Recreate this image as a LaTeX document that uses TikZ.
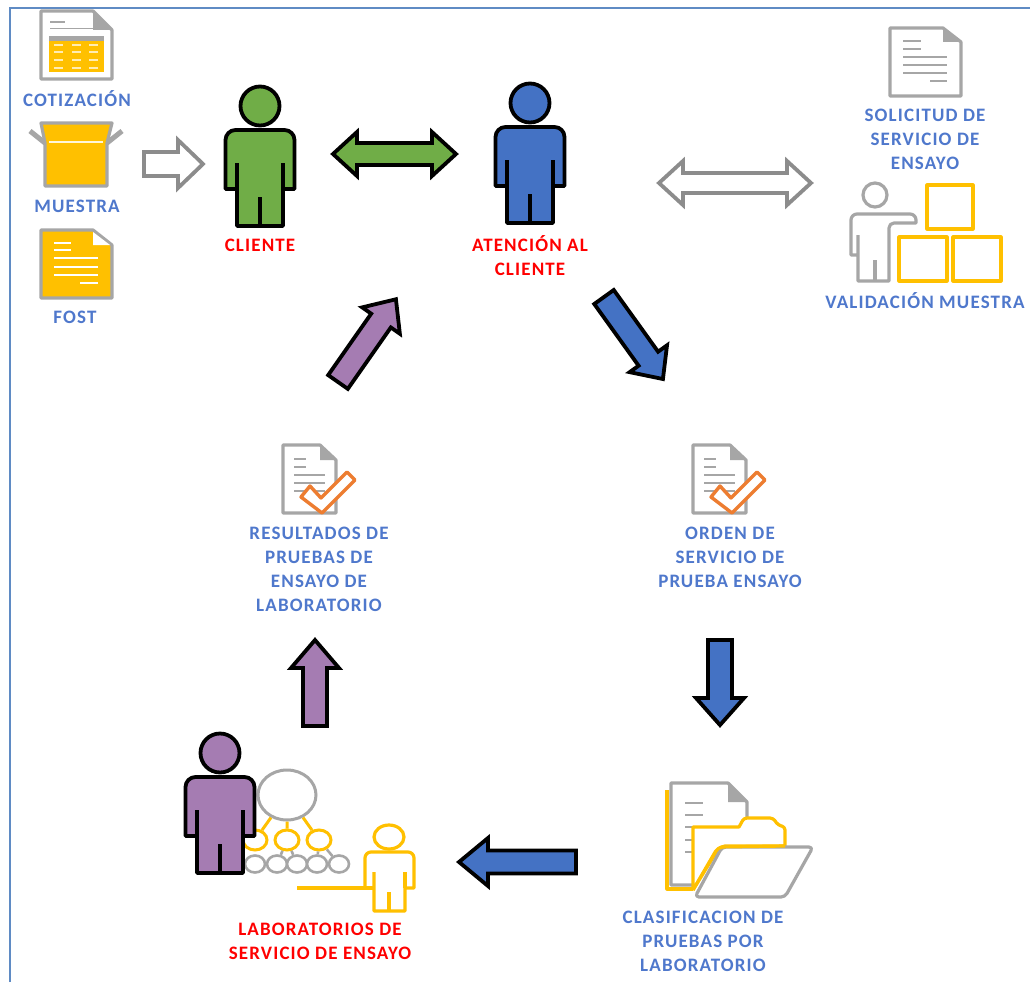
\documentclass[tikz,border=0pt]{standalone}
\usepackage{fontspec}
\setmainfont{Carlito}[LetterSpace=6]
\usetikzlibrary{shapes.geometric}
\definecolor{gy}{HTML}{A6A6A6}
\definecolor{agy}{HTML}{8C8C8C}
\definecolor{yl}{HTML}{FFC000}
\definecolor{bl}{HTML}{4472C4}
\definecolor{gn}{HTML}{70AD47}
\definecolor{pu}{HTML}{A57CB2}
\definecolor{org}{HTML}{ED7D31}
\definecolor{frame}{HTML}{5F8BC4}
\definecolor{lab}{HTML}{4F78CC}
\tikzset{
  lbl/.style={font=\bfseries\fontsize{19}{24}\selectfont,align=center,inner sep=0pt,text=lab},
  red lbl/.style={lbl,text=red},
  gline/.style={draw=gy,line width=1.6pt},
  wline/.style={draw=white,line width=1.6pt},
  docout/.style={draw=gy,line width=3.2pt,line join=round},
  yout/.style={draw=yl,line width=3.2pt,line join=round},
  barrow/.style={line width=3.8pt,line join=miter},
  netbig/.style={ellipse,draw=gy,line width=3pt,fill=white,minimum width=58pt,minimum height=50pt,inner sep=0pt},
  nety/.style={ellipse,draw=yl,line width=3pt,fill=white,minimum width=24pt,minimum height=20pt,inner sep=0pt},
  netg/.style={ellipse,draw=gy,line width=2.6pt,fill=white,minimum width=20pt,minimum height=17pt,inner sep=0pt},
}
% style, x, y, angle, length, shaft half, head half, head length
\newcommand\singlearrow[8]{%
  \begin{scope}[shift={(#2,#3)},rotate=#4]
  \draw[barrow,#1] (0,-#6) -- ({#5-#8},-#6) -- ({#5-#8},-#7) -- (#5,0) -- ({#5-#8},#7) -- ({#5-#8},#6) -- (0,#6) -- cycle;
  \end{scope}}
% style, x, y, length, shaft half, head half, head length
\newcommand\doublearrow[7]{%
  \begin{scope}[shift={(#2,#3)}]
  \draw[barrow,#1] (0,0) -- (#7,-#6) -- (#7,-#5) -- ({#4-#7},-#5) -- ({#4-#7},-#6) -- (#4,0) -- ({#4-#7},#6) -- ({#4-#7},#5) -- (#7,#5) -- (#7,#6) -- cycle;
  \end{scope}}
% fill, centre x, head top y
\newcommand\personfig[3]{%
  \begin{scope}[shift={(#2,#3)},draw=black,line width=3.8pt,line join=round]
  \draw[fill=#1] (0,20) circle[radius=19.5];
  \draw[fill=#1] (-34.5,103) [rounded corners=10pt] -- (-34.5,44) -- (34.5,44) [sharp corners] -- (34.5,103) -- (23,103) -- (23,140) -- (-23,140) -- (-23,103) -- cycle;
  \draw (-23,103) -- (-23,77) (23,103) -- (23,77) (0,140) -- (0,111);
  \end{scope}}
\newcommand\checkdoc[1]{%
  \begin{scope}[shift={#1}]
  \draw[docout,fill=white] (0,0) -- (37,0) -- (53,15) -- (53,68) -- (0,68) -- cycle;
  \fill[gy] (37,0) -- (53,15) -- (37,15) -- cycle;
  \draw[gline] (11,14) -- (23,14) (11,22) -- (23,22) (11,30) -- (42,30) (11,38) -- (42,38) (11,46) -- (42,46);
  \draw[draw=org,line width=3.4pt,line join=round,fill=white] (18,52) -- (39,68) -- (72,35) -- (64,27) -- (38,53) -- (27,41) -- cycle;
  \end{scope}}
\begin{document}
\begin{tikzpicture}[x=1pt,y=-1pt]
\useasboundingbox (0,0) rectangle (1030,982);
\fill[white] (0,0) rectangle (1030,982);
\draw[frame,line width=1.6pt] (10,982) -- (10,8) -- (1030,8);

% --- Cotizacion
\begin{scope}[shift={(41,11)}]
  \draw[docout,fill=white] (0,0) -- (52,0) -- (71,19) -- (71,68) -- (0,68) -- cycle;
  \fill[gy] (52,0) -- (71,19) -- (52,19) -- cycle;
  \draw[gline] (9,11) -- (24,11) (9,17.5) -- (52,17.5);
  \fill[gy] (8,25) rectangle (63,30);
  \fill[yl] (8,30) rectangle (63,61);
  \draw[draw=white!70!yl,line width=1.4pt]
    (13,34) -- (22,34) (31,34) -- (40,34) (48,34) -- (57,34)
    (13,41) -- (22,41) (31,41) -- (40,41) (48,41) -- (57,41)
    (13,49) -- (22,49) (31,49) -- (40,49) (48,49) -- (57,49)
    (13,57) -- (22,57) (31,57) -- (40,57) (48,57) -- (57,57);
\end{scope}
\node[lbl] (cot) at (77,98.5) {COTIZACIÓN};

% --- Muestra
\draw[draw=gy,line width=5pt] (30,131) -- (45,143) (122,131) -- (107,143);
\draw[docout,fill=yl] (41,123) -- (112,123) -- (107,143) -- (107,186) -- (45,186) -- (45,143) -- cycle;
\draw[draw=white!85!yl,line width=2.4pt] (49,142) -- (103,142);
\node[lbl] (mue) at (77,206.5) {MUESTRA};

% --- FOST
\draw[docout,fill=yl] (41,230) -- (93,230) -- (112,245) -- (112,298) -- (41,298) -- cycle;
\fill[white] (93,232) -- (110,245) -- (93,245) -- cycle;
\draw[wline] (54,243) -- (71,243) (54,250) -- (71,250) (54,258) -- (98,258) (54,267) -- (98,267) (54,275) -- (98,275) (80,283) -- (98,283);
\node[lbl] (fost) at (75,317.5) {FOST};

% --- arrows, top row
\singlearrow{draw=agy,fill=white}{144}{164}{0}{59}{12}{24}{25}
\personfig{gn}{260}{86}
\node[red lbl] (cli) at (260,245.5) {CLIENTE};
\doublearrow{draw=black,fill=gn}{333}{154}{123}{11}{22}{24}
\personfig{bl}{530}{83}
\node[red lbl] (aten) at (530,255.5) {ATENCIÓN AL\\CLIENTE};
\doublearrow{draw=agy,fill=white}{659}{183}{152}{10}{22}{24}

% --- Solicitud
\begin{scope}[shift={(890,28)}]
  \draw[docout,fill=white] (0,0) -- (53,0) -- (71,14) -- (71,68) -- (0,68) -- cycle;
  \fill[gy] (53,0) -- (71,14) -- (53,14) -- cycle;
  \draw[gline] (13,13) -- (31,13) (13,21) -- (31,21) (13,29) -- (57,29) (13,37) -- (57,37) (13,45) -- (57,45) (40,53) -- (57,53);
\end{scope}
\node[lbl] (sol) at (925,139.5) {SOLICITUD DE\\SERVICIO DE\\ENSAYO};

% --- Validacion
\draw[docout] (875,195) circle[radius=12];
\draw[docout] (858,255) -- (851,255) [rounded corners=6pt] -- (851,214) -- (916,214) [sharp corners] -- (916,223) [rounded corners=5pt] -- (889,223) [sharp corners] -- (889,281) -- (858,281) -- (858,235);
\draw[docout] (875,281) -- (875,260);
\draw[yout] (927,185) rectangle (973,229);
\draw[yout] (899,237) rectangle (947,281);
\draw[yout] (953,237) rectangle (1001,281);
\node[lbl] (val) at (925,300.5) {VALIDACIÓN MUESTRA};

% --- diagonal arrows
\singlearrow{draw=black,fill=bl}{604}{297}{-54.3}{101}{12}{23}{25}
\singlearrow{draw=black,fill=pu}{338}{382}{55}{101}{12}{23}{26}

% --- Orden / Resultados
\checkdoc{(693,445)}
\node[lbl] (ord) at (730,557.5) {ORDEN DE\\SERVICIO DE\\PRUEBA ENSAYO};
\checkdoc{(283,445)}
\node[lbl] (res) at (319,569.5) {RESULTADOS DE\\PRUEBAS DE\\ENSAYO DE\\LABORATORIO};

% --- vertical & horizontal arrows
\singlearrow{draw=black,fill=bl}{720}{640}{-90}{85}{12}{24}{27}
\singlearrow{draw=black,fill=bl}{576}{862}{180}{117}{11.5}{24}{29}
\singlearrow{draw=black,fill=pu}{315}{726}{90}{86}{12}{24}{28}

% --- Clasificacion folder
\draw[yout] (693,889) -- (667,889) -- (667,790);
\draw[docout,fill=white] (693,885) -- (671,885) -- (671,783) -- (728,783) -- (747,802) -- (747,830);
\fill[gy] (728,783) -- (747,802) -- (728,802) -- cycle;
\draw[gline] (685,803) -- (703,803) (685,815) -- (703,815) (685,827) -- (693,827) (685,840) -- (693,840) (685,852) -- (693,852);
\draw[yout,fill=white] (693,890) -- (693,827) -- (739,827) [rounded corners=3pt] -- (744,818) -- (773,818) -- (778,825) -- (785,827) [sharp corners] -- (785,846) [rounded corners=5pt] -- (720,846) -- (693,890);
\draw[docout,fill=white,rounded corners=4pt] (695,897) -- (722,847) -- (813,847) -- (785,897) -- cycle;
\draw[yout,rounded corners=5pt] (693,890) -- (718,847) -- (785,846);
\node[lbl] (cla) at (703,941.5) {CLASIFICACION DE\\PRUEBAS POR\\LABORATORIO};

% --- Laboratorios network
\node[netbig] (big) at (287,795) {};
\node[nety] (y1) at (255,840) {};
\node[nety] (y2) at (287,840) {};
\node[nety] (y3) at (319,840) {};
\draw[yl,line width=3pt] (big) -- (y1) (big) -- (y2) (big) -- (y3);
\node[netg] (g1) at (255,864) {};
\node[netg] (g2) at (277,864) {};
\node[netg] (g3) at (297,864) {};
\node[netg] (g4) at (317,864) {};
\node[netg] (g5) at (339,864) {};
\draw[gy,line width=2.6pt] (y2) -- (g2) (y2) -- (g3) (y3) -- (g4) (y3) -- (g5);
\personfig{pu}{220}{733}
\draw[yout] (297,888) -- (374,888);
\draw[yout] (389,837) ellipse[x radius=15,y radius=12];
\draw[yout] (374,888) -- (365,888) [rounded corners=6pt] -- (365,852) -- (414,852) [sharp corners] -- (414,888) -- (405,888) -- (405,911) -- (374,911) -- (374,872);
\draw[yout] (405,888) -- (405,872) (389,911) -- (389,892);
\node[red lbl] (lab) at (320,941.5) {LABORATORIOS DE\\SERVICIO DE ENSAYO};
\end{tikzpicture}
\end{document}
